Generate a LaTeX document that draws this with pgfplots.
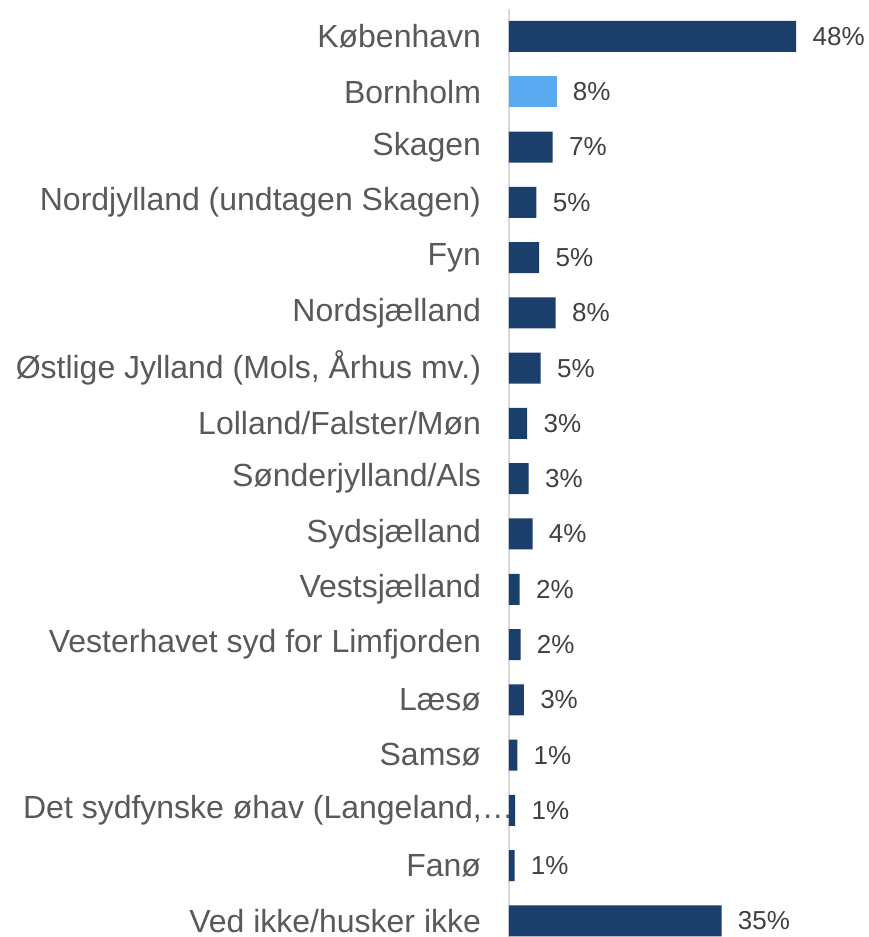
\documentclass[border=0pt]{standalone}
\usepackage{pgfplots}
\pgfplotsset{compat=1.18}
\usepackage{fontspec}
\setmainfont{Liberation Sans}
\definecolor{navy}{HTML}{1A3F6B}
\definecolor{lightblue}{HTML}{5AAAF2}
\definecolor{labelgray}{HTML}{595959}
\definecolor{valgray}{HTML}{404040}
\definecolor{axisgray}{HTML}{D9D9D9}

\begin{document}
\begin{tikzpicture}
\begin{axis}[
    at={(0,0)}, anchor=south west,
    scale only axis,
    width=180pt, height=470pt,
    xbar, bar width=15.5pt, bar shift=0pt,
    xmin=0, xmax=60,
    ymin=-0.5, ymax=16.5,
    y dir=reverse,
    hide x axis,
    axis y line*=left,
    y axis line style={draw=axisgray, line width=0.8pt},
    ytick={0,...,16},
    ytick style={draw=none},
    yticklabels={København, Bornholm, Skagen, Nordjylland (undtagen Skagen), Fyn, Nordsjælland, {Østlige Jylland (Mols, Århus mv.)}, Lolland/Falster/Møn, Sønderjylland/Als, Sydsjælland, Vestsjælland, Vesterhavet syd for Limfjorden, Læsø, Samsø, {Det sydfynske øhav (Langeland,…\kern-16.5pt}, Fanø, Ved ikke/husker ikke},
    yticklabel style={font=\fontsize{16}{19}\selectfont, text=labelgray, anchor=east, inner sep=0pt, xshift=-9.5pt},
    point meta=explicit symbolic,
    nodes near coords,
    nodes near coords style={font=\fontsize{13}{15}\selectfont, text=valgray, anchor=west, inner sep=0pt, xshift=8pt},
    clip=false,
]
% dark bars
\addplot[fill=navy, draw=none] coordinates {
    (47.9,0) [48\%]
    (7.3,2) [7\%]
    (4.6,3) [5\%]
    (5.05,4) [5\%]
    (7.8,5) [8\%]
    (5.3,6) [5\%]
    (3.05,7) [3\%]
    (3.3,8) [3\%]
    (3.95,9) [4\%]
    (1.8,10) [2\%]
    (1.95,11) [2\%]
    (2.5,12) [3\%]
    (1.4,13) [1\%]
    (1.05,14) [1\%]
    (0.95,15) [1\%]
    (35.45,16) [35\%]
};
% highlighted bar
\addplot[fill=lightblue, draw=none] coordinates {
    (7.95,1) [8\%]
};
\end{axis}
\pgfresetboundingbox
\path (-254.5pt,5.8pt) rectangle (180pt,474.4pt);
\end{tikzpicture}
\end{document}
